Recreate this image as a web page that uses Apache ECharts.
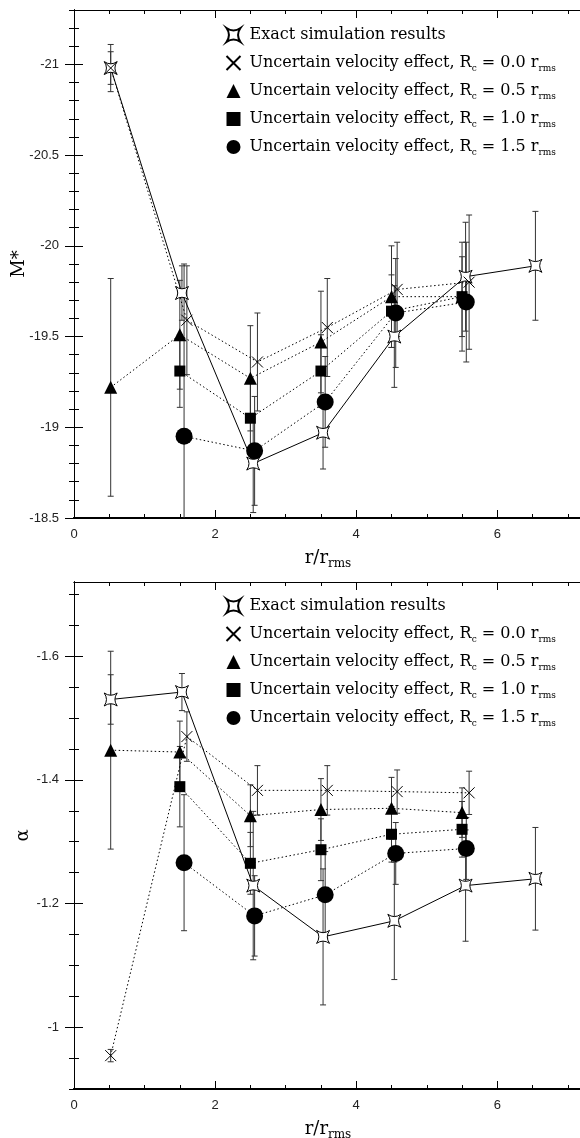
<!DOCTYPE html>
<html>
<head>
<meta charset="utf-8">
<script src="https://cdn.jsdelivr.net/npm/echarts@6/dist/echarts.min.js"></script>
<style>html,body{margin:0;padding:0;background:#fff}#main{width:580px;height:1138px}</style>
</head>
<body>
<div id="main"></div>
<script>
var xTicks = [0, 2, 4, 6];
var mTicks = [-21, -20.5, -20, -19.5, -19, -18.5];
var aTicks = [-1.6, -1.4, -1.2, -1];

var legendNames = [
    'Exact simulation results',
    'Uncertain velocity effect, R_c = 0.0 r_rms',
    'Uncertain velocity effect, R_c = 0.5 r_rms',
    'Uncertain velocity effect, R_c = 1.0 r_rms',
    'Uncertain velocity effect, R_c = 1.5 r_rms'
];

// x positions (r / r_rms)
var xExact = [0.52, 1.53, 2.54, 3.53, 4.54, 5.55, 6.54];
var xRc00 = [0.52, 1.6, 2.6, 3.59, 4.58, 5.6];
var xRc05 = [0.52, 1.5, 2.5, 3.5, 4.5, 5.5];
var xRc10 = [1.5, 2.5, 3.5, 4.5, 5.5];
var xRc15 = [1.56, 2.56, 3.56, 4.56, 5.56];

// top panel: M*
var mExact = [-20.98, -19.74, -18.80, -18.97, -19.50, -19.83, -19.89];
var mExactErr = [0.13, 0.15, 0.27, 0.2, 0.28, 0.3, 0.3];
var mRc00 = [-20.98, -19.59, -19.36, -19.55, -19.76, -19.80];
var mRc00Err = [0.09, 0.3, 0.27, 0.27, 0.26, 0.37];
var mRc05 = [-19.22, -19.51, -19.27, -19.47, -19.72, -19.72];
var mRc05Err = [0.6, 0.3, 0.29, 0.28, 0.28, 0.3];
var mRc10 = [-19.31, -19.05, -19.31, -19.64, -19.72];
var mRc10Err = [0.2, 0.2, 0.2, 0.2, 0.22];
var mRc15 = [-18.95, -18.87, -19.14, -19.63, -19.69];
var mRc15Err = [0.95, 0.3, 0.25, 0.3, 0.33];

// bottom panel: alpha
var aExact = [-1.530, -1.542, -1.229, -1.146, -1.172, -1.229, -1.240];
var aExactErr = [0.04, 0.03, 0.12, 0.11, 0.095, 0.09, 0.083];
var aRc00 = [-0.954, -1.470, -1.383, -1.383, -1.381, -1.379];
var aRc00Err = [0.01, 0.04, 0.04, 0.04, 0.035, 0.035];
var aRc05 = [-1.448, -1.445, -1.342, -1.352, -1.354, -1.347];
var aRc05Err = [0.16, 0.05, 0.05, 0.05, 0.05, 0.04];
var aRc10 = [-1.389, -1.265, -1.287, -1.312, -1.320];
var aRc10Err = [0.065, 0.05, 0.05, 0.045, 0.045];
var aRc15 = [-1.266, -1.180, -1.214, -1.281, -1.289];
var aRc15Err = [0.11, 0.065, 0.07, 0.05, 0.05];

function steps(a, b, s) {
    var out = [];
    for (var v = a; v <= b + s / 2; v += s) out.push(Math.round(v * 1000) / 1000);
    return out;
}
var xMinor = steps(0, 7, 0.5);
var mMinor = steps(-21.3, -18.5, 0.1);
var aMinor = steps(-1.7, -0.9, 0.05);

var chartDom = document.getElementById('main');
var myChart = echarts.init(chartDom);

var sans = 'Liberation Sans';
var serif = 'DejaVu Serif';

var starPath = 'path://M-10,-10 Q0,-3 10,-10 Q3,0 10,10 Q0,3 -10,10 Q-3,0 -10,-10 Z';
var crossPath = 'path://M0,0L10,10M10,0L0,10';
var markers = [
    { symbol: starPath, size: 13, item: { color: '#fff', borderColor: '#000', borderWidth: 1 } },
    { symbol: crossPath, size: 11, item: { color: 'none', borderColor: '#000', borderWidth: 1 } },
    { symbol: 'triangle', size: 13, item: { color: '#000' } },
    { symbol: 'rect', size: 11, item: { color: '#000' } },
    { symbol: 'circle', size: 17, item: { color: '#000' } }
];

function xAx(grid, pos, ticks, len, label, lineW) {
    return {
        type: 'value', gridIndex: grid, min: 0, max: 7.2, position: pos,
        name: label ? 'r/r{s|rms}' : '', nameLocation: 'middle', nameGap: 28,
        nameMoveOverlap: false,
        nameTextStyle: { fontFamily: serif, fontSize: 18, color: '#000',
            rich: { s: { fontFamily: serif, fontSize: 12, color: '#000', padding: [12, 0, 0, 0] } } },
        axisLine: { show: true, lineStyle: { color: '#000', width: lineW } },
        axisTick: { show: true, inside: true, length: len, customValues: ticks, lineStyle: { color: '#000' } },
        axisLabel: { show: label, customValues: ticks, margin: 10, fontFamily: sans, fontSize: 13, color: '#222' },
        splitLine: { show: false }
    };
}
function yAx(grid, min, max, pos, ticks, len, label, name, gap) {
    return {
        type: 'value', gridIndex: grid, min: min, max: max, inverse: true, position: pos,
        name: name || '', nameLocation: 'middle', nameGap: gap || 40, nameRotate: 90,
        nameMoveOverlap: false,
        nameTextStyle: { fontFamily: serif, fontSize: 18, color: '#000' },
        axisLine: { show: true, lineStyle: { color: '#000', width: 1 } },
        axisTick: { show: true, inside: true, length: len, customValues: ticks, lineStyle: { color: '#000' } },
        axisLabel: { show: label, customValues: ticks, margin: 15, fontFamily: sans, fontSize: 13, color: '#222' },
        splitLine: { show: false }
    };
}

function lineSeries(k, xs, ys, ax) {
    var m = markers[k];
    return {
        name: legendNames[k], type: 'line', xAxisIndex: ax, yAxisIndex: ax, z: 3,
        data: xs.map(function (x, i) { return [x, ys[i]]; }),
        symbol: m.symbol, symbolSize: m.size, showAllSymbol: true,
        itemStyle: m.item,
        lineStyle: { color: '#000', width: 1, type: k === 0 ? 'solid' : [1.5, 2.5] },
        emphasis: { disabled: true }
    };
}
function errSeries(xs, ys, errs, ax) {
    return {
        type: 'custom', xAxisIndex: ax, yAxisIndex: ax, silent: true, clip: true, z: 2,
        data: xs.map(function (x, i) { return [x, ys[i] - errs[i], ys[i] + errs[i]]; }),
        encode: { x: 0, y: [1, 2] },
        renderItem: function (params, api) {
            var lo = api.coord([api.value(0), api.value(1)]);
            var hi = api.coord([api.value(0), api.value(2)]);
            var w = 3;
            var st = { stroke: '#333', lineWidth: 1 };
            return {
                type: 'group', children: [
                    { type: 'line', shape: { x1: lo[0], y1: lo[1], x2: hi[0], y2: hi[1] }, style: st },
                    { type: 'line', shape: { x1: lo[0] - w, y1: lo[1], x2: lo[0] + w, y2: lo[1] }, style: st },
                    { type: 'line', shape: { x1: hi[0] - w, y1: hi[1], x2: hi[0] + w, y2: hi[1] }, style: st }
                ]
            };
        }
    };
}

function legendFor(top) {
    return {
        orient: 'vertical', left: 224, top: top, padding: 0,
        itemWidth: 14, itemHeight: 14, itemGap: 8,
        selectedMode: false,
        data: legendNames.map(function (n, k) { return { name: n, icon: markers[k].symbol }; }),
        formatter: function (n) { return '{g| }' + n.replace('_c', '{s|c}').replace('_rms', '{s|rms}'); },
        textStyle: { fontFamily: serif, fontSize: 16, lineHeight: 20, color: '#000',
            rich: {
                g: { width: 4, fontSize: 16, lineHeight: 20 },
                s: { fontFamily: serif, fontSize: 9, lineHeight: 12, color: '#000', verticalAlign: 'bottom' }
            } }
    };
}

var xsAll = [xExact, xRc00, xRc05, xRc10, xRc15];
var mAll = [mExact, mRc00, mRc05, mRc10, mRc15];
var mErrAll = [mExactErr, mRc00Err, mRc05Err, mRc10Err, mRc15Err];
var aAll = [aExact, aRc00, aRc05, aRc10, aRc15];
var aErrAll = [aExactErr, aRc00Err, aRc05Err, aRc10Err, aRc15Err];

var series = [];
for (var k = 0; k < 5; k++) {
    series.push(errSeries(xsAll[k], mAll[k], mErrAll[k], 0));
    series.push(lineSeries(k, xsAll[k], mAll[k], 0));
    series.push(errSeries(xsAll[k], aAll[k], aErrAll[k], 4));
    series.push(lineSeries(k, xsAll[k], aAll[k], 4));
}

var option = {
    animation: false,
    grid: [
        { left: 74, top: 10, width: 508, height: 508, outerBoundsMode: 'none', containLabel: false },
        { left: 74, top: 582, width: 508, height: 507, outerBoundsMode: 'none', containLabel: false }
    ],
    legend: [legendFor(25), legendFor(596)],
    xAxis: [
        xAx(0, 'bottom', xTicks, 8, true, 2),
        xAx(0, 'bottom', xMinor, 4, false, 2),
        xAx(0, 'top', xTicks, 8, false, 1),
        xAx(0, 'top', xMinor, 4, false, 1),
        xAx(1, 'bottom', xTicks, 8, true, 2),
        xAx(1, 'bottom', xMinor, 4, false, 2),
        xAx(1, 'top', xTicks, 8, false, 1),
        xAx(1, 'top', xMinor, 4, false, 1)
    ],
    yAxis: [
        yAx(0, -21.3, -18.5, 'left', mTicks, 9, true, 'M*', 46),
        yAx(0, -21.3, -18.5, 'left', mMinor, 5, false),
        yAx(0, -21.3, -18.5, 'right', mTicks, 9, false),
        yAx(0, -21.3, -18.5, 'right', mMinor, 5, false),
        yAx(1, -1.72, -0.9, 'left', aTicks, 9, true, 'α', 42),
        yAx(1, -1.72, -0.9, 'left', aMinor, 5, false),
        yAx(1, -1.72, -0.9, 'right', aTicks, 9, false),
        yAx(1, -1.72, -0.9, 'right', aMinor, 5, false)
    ],
    series: series
};

option && myChart.setOption(option);
</script>
</body>
</html>
